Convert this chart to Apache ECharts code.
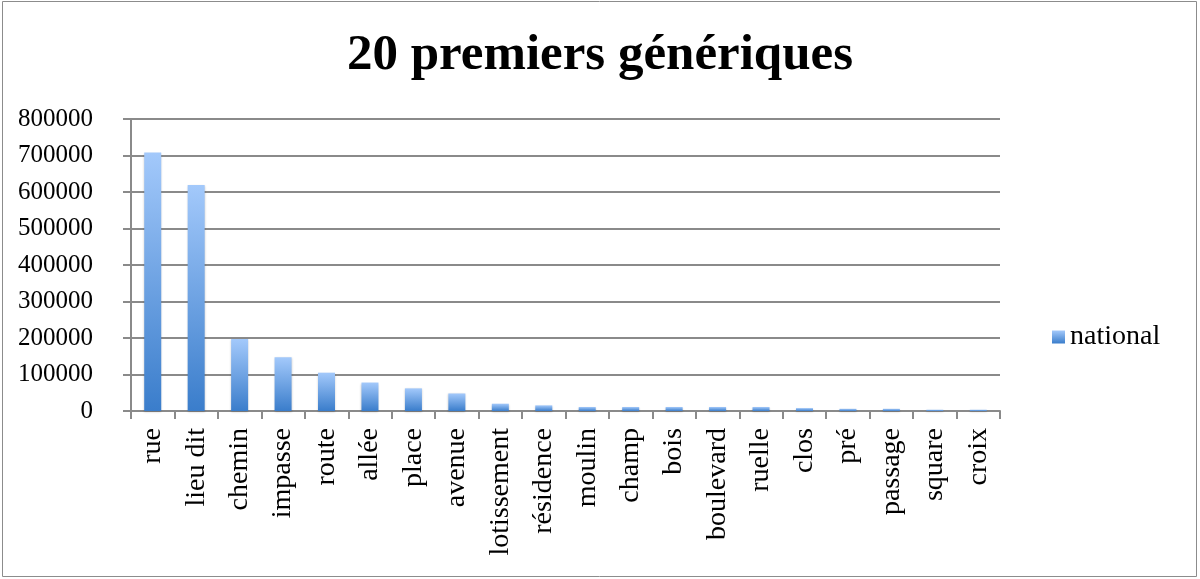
<!DOCTYPE html>
<html>
<head>
<meta charset="utf-8">
<script src="https://cdn.jsdelivr.net/npm/echarts@6/dist/echarts.min.js"></script>
<style>
  html, body { margin: 0; padding: 0; background: #fff; }
  #main { width: 1200px; height: 579px; }
</style>
</head>
<body>
<div id="main"></div>
<script>
// categories and values
var categories = ['rue', 'lieu dit', 'chemin', 'impasse', 'route', 'allée', 'place', 'avenue',
    'lotissement', 'résidence', 'moulin', 'champ', 'bois', 'boulevard', 'ruelle', 'clos',
    'pré', 'passage', 'square', 'croix'];
var national = [708000, 619000, 197000, 147000, 105000, 78000, 62000, 48000,
    20000, 15500, 11000, 11000, 11000, 11000, 11000, 8000,
    6000, 6000, 3500, 3500];
var yTicks = [0, 100000, 200000, 300000, 400000, 500000, 600000, 700000, 800000];

var dom = document.getElementById('main');
var myChart = echarts.init(dom);
var serif = '"Liberation Serif", "DejaVu Serif", serif';

var option = {
    animation: false,
    backgroundColor: '#fff',
    title: {
        text: '20 premiers génériques',
        left: 'center',
        top: 25,
        textStyle: {
            fontFamily: serif,
            fontWeight: 'bold',
            fontSize: 51,
            color: '#000'
        }
    },
    graphic: [{
        type: 'rect',
        shape: { x: 2.5, y: 1.5, width: 1194, height: 575 },
        style: { fill: 'none', stroke: '#8c8c8c', lineWidth: 1 },
        silent: true
    }],
    legend: {
        data: ['national'],
        orient: 'vertical',
        left: 1047,
        top: 318,
        itemWidth: 13,
        itemHeight: 13,
        itemGap: 6,
        icon: 'rect',
        textStyle: { fontFamily: serif, fontSize: 28, color: '#000' }
    },
    grid: {
        left: 131,
        right: 200,
        top: 119,
        bottom: 168,
        containLabel: false
    },
    xAxis: {
        type: 'category',
        data: categories,
        axisLine: { lineStyle: { color: '#8a8a8a', width: 2 } },
        axisTick: { show: true, length: 8, lineStyle: { color: '#8a8a8a', width: 2 } },
        axisLabel: {
            rotate: 90,
            interval: 0,
            margin: 17,
            fontFamily: serif,
            fontSize: 28,
            color: '#000'
        }
    },
    yAxis: {
        type: 'value',
        min: yTicks[0],
        max: yTicks[yTicks.length - 1],
        interval: 100000,
        axisLine: { show: true, lineStyle: { color: '#8a8a8a', width: 2 } },
        axisTick: { show: true, length: 8, lineStyle: { color: '#8a8a8a', width: 2 } },
        splitLine: { lineStyle: { color: '#8a8a8a', width: 2 } },
        axisLabel: {
            margin: 38,
            fontFamily: serif,
            fontSize: 25,
            color: '#000',
            formatter: function (v) { return String(v); }
        }
    },
    series: [{
        name: 'national',
        type: 'bar',
        data: national,
        barWidth: 17,
        itemStyle: {
            color: new echarts.graphic.LinearGradient(0, 0, 0, 1, [
                { offset: 0, color: '#a3c9fb' },
                { offset: 1, color: '#3a7dcb' }
            ]),
            shadowColor: 'rgba(0,0,0,0.2)',
            shadowBlur: 2,
            shadowOffsetY: 1
        }
    }]
};

myChart.setOption(option);
</script>
</body>
</html>
